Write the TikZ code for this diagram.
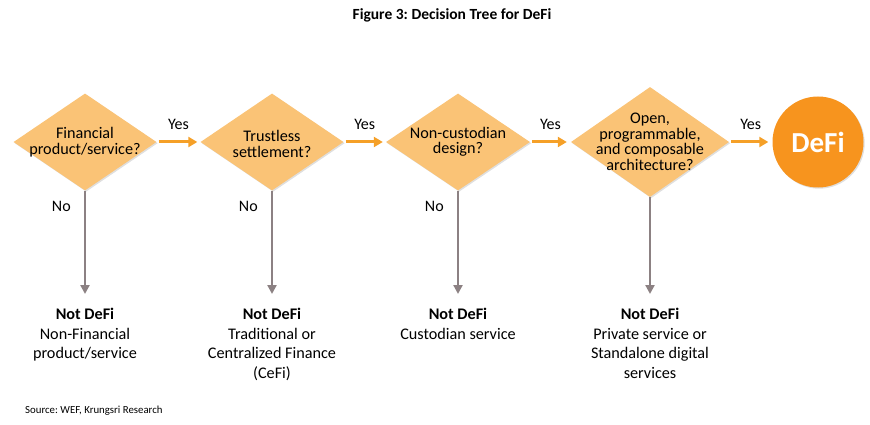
\documentclass[tikz,border=0pt]{standalone}
\usepackage{fontspec}
\setmainfont{Carlito}
\frenchspacing
\usetikzlibrary{shapes.geometric,shadows,arrows.meta}
\definecolor{dfill}{RGB}{250,195,118}
\definecolor{dorange}{RGB}{247,148,30}
\definecolor{aorange}{RGB}{245,160,40}
\definecolor{agray}{RGB}{140,129,131}
\tikzset{
  dia/.style={diamond, fill=dfill, inner sep=0pt, draw=none,
    drop shadow={shadow xshift=1.2pt, shadow yshift=-1.2pt, opacity=0.25}},
  dtxt/.style={align=center, font=\fontsize{16.2}{15.5}\selectfont, inner sep=0pt},
  yesarrow/.style={draw=aorange, line width=3pt, -{Triangle[length=9pt,width=10pt]}},
  noarrow/.style={draw=agray, line width=2.5pt, -{Triangle[length=9pt,width=9pt]}},
  lbl/.style={font=\fontsize{16}{18}\selectfont, inner sep=0pt},
  res/.style={align=center, font=\fontsize{16.2}{19.5}\selectfont, inner sep=0pt, anchor=north},
}
\begin{document}
\begin{tikzpicture}[x=1pt,y=-1pt]
\useasboundingbox (0,0) rectangle (870,425);
\node[font=\bfseries\fontsize{15.5}{17}\selectfont] (title) at (452,15) {Figure 3: Decision Tree for DeFi};

\node[dia, minimum width=143pt, minimum height=97pt] (d1) at (85,142) {};
\node[dtxt] (t1) at (85,142) {Financial\\product/service?};
\node[dia, minimum width=143pt, minimum height=97pt] (d2) at (272,142) {};
\node[dtxt] (t2) at (272,144) {Trustless\\settlement?};
\node[dia, minimum width=144pt, minimum height=97pt] (d3) at (458,142) {};
\node[dtxt] (t3) at (458,142) {Non-custodian\\design?};
\node[dia, minimum width=158pt, minimum height=110pt] (d4) at (650,142) {};
\node[dtxt] (t4) at (650,142) {Open,\\programmable,\\and composable\\architecture?};
\node[circle, fill=dorange, minimum size=91pt, inner sep=0pt,
  drop shadow={shadow xshift=1.2pt, shadow yshift=-1.2pt, opacity=0.25},
  text=white, font=\bfseries\fontsize{29}{30}\selectfont] (defi) at (818,142) {DeFi};

\draw[yesarrow, shorten <=2pt, shorten >=3pt] (d1.east) -- node[lbl, above=11pt] (y1) {Yes} (d2.west);
\draw[yesarrow, shorten <=2pt, shorten >=3pt] (d2.east) -- node[lbl, above=11pt] (y2) {Yes} (d3.west);
\draw[yesarrow, shorten <=2pt, shorten >=4pt] (d3.east) -- node[lbl, above=11pt] (y3) {Yes} (d4.west);
\draw[yesarrow, shorten <=2pt, shorten >=4pt] (d4.east) -- node[lbl, above=11pt] (y4) {Yes} (defi.west);

\node[res] (n1) at (85,308) {\textbf{Not DeFi}\\Non-Financial\\product/service};
\node[res] (n2) at (272,308) {\textbf{Not DeFi}\\Traditional or\\Centralized Finance\\(CeFi)};
\node[res] (n3) at (458,308) {\textbf{Not DeFi}\\Custodian service};
\node[res] (n4) at (650,308) {\textbf{Not DeFi}\\Private service or\\Standalone digital\\services};

\draw[noarrow, shorten >=14pt] (d1.south) -- node[lbl, pos=0.13, left=13pt] (no1) {No} (n1.north);
\draw[noarrow, shorten >=14pt] (d2.south) -- node[lbl, pos=0.13, left=13pt] (no2) {No} (n2.north);
\draw[noarrow, shorten >=14pt] (d3.south) -- node[lbl, pos=0.13, left=13pt] (no3) {No} (n3.north);
\draw[noarrow, shorten >=14pt] (d4.south) -- (n4.north);

\node[anchor=west, font=\fontsize{10.8}{12}\selectfont, inner sep=0pt] (src) at (25,411) {Source: WEF, Krungsri Research};
\end{tikzpicture}
\end{document}
